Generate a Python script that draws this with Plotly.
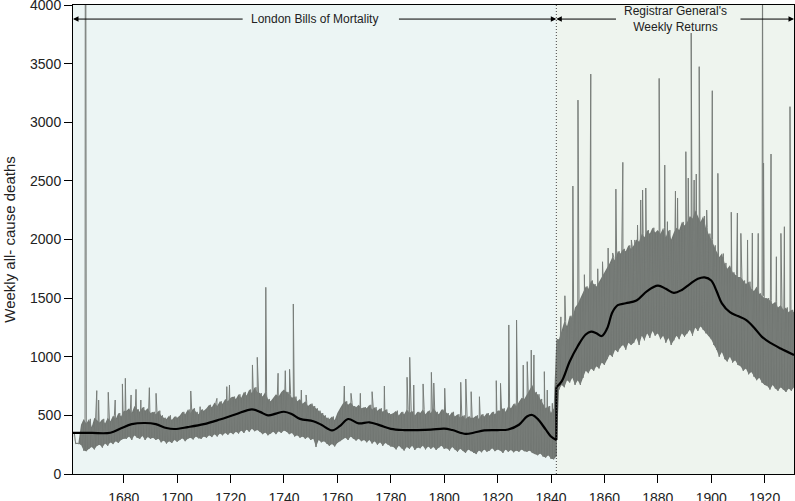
import plotly.graph_objects as go

# yearly lower / upper edge of the weekly-deaths band, 1661..1931
band_low = [
    345, 258, 258, 250, 200, 195, 215, 230, 210, 240,
    250, 225, 260, 240, 270, 255, 280, 265, 290, 300,
    300, 320, 290, 330, 310, 300, 325, 290, 315, 300,
    310, 290, 300, 270, 285, 260, 280, 265, 290, 275,
    290, 305, 280, 300, 310, 295, 320, 305, 300, 320,
    310, 330, 315, 340, 320, 345, 330, 350, 335, 355,
    340, 360, 345, 370, 350, 380, 360, 385, 365, 375,
    360, 340, 355, 330, 345, 360, 340, 365, 350, 370,
    360, 340, 350, 320, 330, 310, 320, 300, 315, 290,
    300, 230, 290, 270, 280, 260, 240, 255, 235, 265,
    280, 300, 310, 290, 320, 300, 285, 300, 280, 290,
    270, 290, 260, 280, 250, 270, 240, 265, 250, 235,
    230, 210, 240, 220, 200, 230, 215, 240, 205, 225,
    220, 240, 210, 235, 215, 230, 205, 225, 240, 215,
    220, 200, 230, 210, 190, 215, 200, 180, 210, 195,
    180, 170, 200, 185, 210, 190, 200, 220, 195, 210,
    200, 180, 210, 190, 205, 185, 200, 190, 210, 195,
    190, 200, 180, 170, 160, 175, 150, 140, 160, 130,
    125, 150,
    720, 760, 740, 800, 780, 820, 760, 800,
    760, 820, 880, 860, 900, 880, 920, 900, 950, 930,
    980, 1020, 1000, 1060, 1040, 1080, 1100, 1060, 1120, 1100,
    1120, 1160, 1100, 1180, 1140, 1200, 1160, 1220, 1180, 1200,
    1150, 1180, 1120, 1160, 1100, 1140, 1180, 1150, 1200, 1170,
    1200, 1230, 1180, 1250, 1220, 1260, 1230, 1200, 1180, 1150,
    1100, 1060, 1000, 1040, 980, 960, 1000, 950, 970, 930,
    920, 880, 900, 850, 870, 830, 800, 820, 780, 760,
    750, 720, 760, 730, 710, 740, 720, 700, 730, 710, 740,
]
band_high = [
    350, 264, 262, 420, 470, 430, 470, 400, 480, 460,
    440, 470, 430, 480, 450, 500, 470, 520, 490, 540,
    540, 560, 520, 580, 550, 530, 570, 540, 560, 520,
    530, 510, 540, 500, 480, 470, 500, 460, 490, 480,
    500, 530, 510, 550, 520, 560, 530, 510, 550, 540,
    560, 590, 570, 610, 580, 620, 600, 640, 620, 650,
    660, 640, 680, 650, 700, 670, 720, 690, 740, 700,
    690, 660, 700, 640, 620, 650, 680, 660, 700, 720,
    700, 680, 650, 660, 620, 640, 600, 620, 580, 600,
    580, 560, 540, 520, 500, 480, 470, 490, 460, 520,
    560, 600, 620, 590, 610, 580, 570, 590, 560, 570,
    560, 590, 550, 570, 540, 560, 530, 550, 520, 510,
    520, 540, 500, 530, 510, 550, 520, 540, 500, 530,
    520, 550, 510, 540, 520, 560, 530, 510, 550, 540,
    520, 500, 530, 490, 510, 480, 500, 470, 490, 480,
    480, 500, 470, 510, 490, 520, 500, 530, 510, 540,
    540, 560, 530, 580, 560, 600, 580, 620, 650, 640,
    680, 720, 760, 700, 680, 640, 600, 560, 580, 520,
    560, 1150,
    1150, 1220, 1300, 1260, 1350, 1330, 1420, 1450,
    1500, 1560, 1600, 1580, 1650, 1620, 1600, 1640, 1680, 1720,
    1750, 1800, 1850, 1820, 1900, 1880, 1920, 1900, 1950, 1920,
    1950, 2000, 1980, 2050, 2020, 2080, 2050, 2100, 2060, 2080,
    2050, 2100, 2020, 2080, 2000, 2060, 2100, 2080, 2150, 2120,
    2150, 2200, 2180, 2250, 2200, 2150, 2200, 2100, 2050, 2000,
    1950, 1900, 1850, 1880, 1800, 1750, 1780, 1720, 1700, 1680,
    1680, 1650, 1620, 1640, 1580, 1560, 1600, 1540, 1520, 1500,
    1500, 1480, 1450, 1470, 1420, 1440, 1400, 1420, 1380, 1400, 1380,
]
first_year = 1661

# single-week peaks standing out of the band
spike_years = [
    1665.6, 1665.8, 1669.9, 1670.6, 1674.2, 1676.8, 1679.5, 1680.6, 1682.75, 1684.6,
    1686.4, 1689.6, 1692.1, 1705.1, 1708.6, 1714.9, 1718.6, 1719.6, 1728.2, 1730.0,
    1733.2, 1737.8, 1740.5, 1742.1, 1743.5, 1746.5, 1748.3, 1762.6, 1765.1, 1768.6,
    1773.0, 1777.6, 1786.1, 1787.1, 1788.6, 1792.1, 1795.2, 1796.1, 1800.2, 1806.2,
    1808.1, 1810.1, 1813.2, 1819.5, 1821.1, 1824.2, 1827.1, 1829.6, 1831.1, 1832.6,
    1833.6, 1837.5, 1838.6, 1840.5,
    1843.7, 1845.2, 1848.2, 1850.1, 1852.5, 1854.9, 1857.5, 1859.3, 1861.4, 1863.1,
    1864.3, 1866.9, 1870.1, 1871.4, 1872.4, 1873.6, 1874.3, 1875.5, 1878.5, 1880.5,
    1882.6, 1883.6, 1886.6, 1887.4, 1890.5, 1891.4, 1892.5, 1893.6, 1894.4, 1895.5,
    1898.3, 1900.4, 1902.5, 1904.6, 1907.5, 1909.8, 1911.1, 1913.6, 1915.4, 1917.6,
    1919.2, 1919.6, 1922.4, 1924.4, 1926.1, 1927.4, 1929.5,
]
spike_values = [
    4400, 4400, 711, 631, 697, 631, 768, 816, 674, 722,
    631, 736, 688, 708, 574, 645, 745, 759, 930, 995,
    1592, 859, 881, 893, 1450, 716, 674, 750, 688, 688,
    702, 750, 825, 995, 759, 768, 867, 776, 731, 782,
    810, 702, 659, 796, 773, 1271, 1313, 929, 958, 1057,
    1015, 873, 716, 603,
    1340, 1520, 2456, 3189, 1700, 3411, 1750, 1810, 1927, 1885,
    2430, 2658, 1996, 1996, 2123, 2337, 2422, 2439, 2054, 3374,
    2635, 2152, 2413, 2354, 2749, 2524, 3761, 2507, 2558, 3474,
    2251, 3269, 2564, 1853, 2233, 2226, 2052, 1996, 2055, 2052,
    4400, 2652, 2729, 1853, 2052, 2109, 3133,
]

# smoothed trend, Bills of Mortality and Registrar General parts
trend_pre_years = [1661, 1668, 1675, 1679, 1683, 1688, 1692, 1696, 1699, 1704,
                   1710, 1716, 1722, 1728, 1731, 1734, 1737, 1740, 1743, 1746,
                   1751, 1754, 1758, 1761, 1764, 1768, 1772, 1776, 1780, 1785,
                   1790, 1795, 1800, 1803, 1808, 1811, 1815, 1820, 1824, 1828,
                   1831, 1833, 1835, 1838, 1840, 1842]
trend_pre_values = [350, 350, 352, 390, 425, 435, 425, 392, 384, 400,
                    425, 465, 510, 552, 530, 500, 515, 531, 510, 470,
                    450, 420, 372, 410, 469, 432, 441, 415, 385, 375,
                    375, 378, 387, 375, 342, 352, 372, 375, 380, 420,
                    490, 503, 470, 380, 320, 290]
trend_post_years = [1842, 1844, 1847, 1850, 1853, 1855, 1857, 1859, 1861, 1863,
                    1865, 1868, 1872, 1876, 1880, 1883, 1886, 1889, 1892, 1895,
                    1897.5, 1900, 1902, 1904, 1907, 1910, 1913, 1916, 1919, 1922,
                    1926, 1931]
trend_post_values = [740, 790, 960, 1090, 1190, 1214, 1200, 1177, 1240, 1380,
                     1440, 1456, 1480, 1560, 1606, 1580, 1545, 1570, 1620, 1665,
                     1677, 1650, 1560, 1456, 1380, 1347, 1315, 1250, 1170, 1120,
                     1070, 1015]

x_start, x_split, x_end = 1661, 1842, 1931
tick_years = [1680, 1700, 1720, 1740, 1760, 1780, 1800, 1820, 1840, 1860, 1880, 1900, 1920]
y_ticks = [0, 500, 1000, 1500, 2000, 2500, 3000, 3500, 4000]

band_years = [first_year + i for i in range(len(band_low))]

# weekly series: lower and upper readings alternate within each year, peaks slotted in
pts = []
for yr, lo, hi in zip(band_years, band_low, band_high):
    pts.append((yr, lo))
    pts.append((yr + 0.5, hi))
pts += list(zip(spike_years, spike_values))
pts.sort(key=lambda p: p[0])
wx = [p[0] for p in pts]
wy = [p[1] for p in pts]

FONT = "Liberation Sans, Arial, sans-serif"
GREY = "#787d79"
fig = go.Figure()

# dense core of the weekly band
fig.add_trace(go.Scatter(x=band_years, y=band_low, mode="lines",
                         line=dict(width=0, color=GREY), hoverinfo="skip"))
fig.add_trace(go.Scatter(x=band_years, y=band_high, mode="lines", fill="tonexty",
                         fillcolor="#717672", line=dict(width=0, color=GREY), hoverinfo="skip"))
fig.add_trace(go.Scatter(x=wx, y=wy, mode="lines",
                         line=dict(color=GREY, width=1), hoverinfo="skip"))

fig.add_trace(go.Scatter(x=trend_pre_years, y=trend_pre_values, mode="lines",
                         line=dict(color="black", width=2.2, shape="spline", smoothing=1)))
fig.add_trace(go.Scatter(x=[trend_pre_years[-1], trend_post_years[0]],
                         y=[trend_pre_values[-1], trend_post_values[0]], mode="lines",
                         line=dict(color="black", width=2.2)))
fig.add_trace(go.Scatter(x=trend_post_years, y=trend_post_values, mode="lines",
                         line=dict(color="black", width=2.2, shape="spline", smoothing=1)))

# shaded source periods and divider
fig.add_shape(type="rect", xref="x", yref="paper", x0=x_start, x1=x_split, y0=0, y1=1,
              fillcolor="#ECF5F4", line_width=0, layer="below")
fig.add_shape(type="rect", xref="x", yref="paper", x0=x_split, x1=x_end, y0=0, y1=1,
              fillcolor="#EEF4EE", line_width=0, layer="below")
fig.add_shape(type="line", xref="x", yref="paper", x0=x_split, x1=x_split, y0=0, y1=1,
              line=dict(color="#444444", width=1, dash="1px,2px"))

# period labels with arrows
lab_y = 3880
arrows = [(x_start, 1725.1), (x_split, 1782.5), (x_split, 1864.9), (x_end, 1910.4)]
for head, tail in arrows:
    fig.add_annotation(x=head, y=lab_y, ax=tail, ay=lab_y, xref="x", yref="y",
                       axref="x", ayref="y", text="", showarrow=True,
                       arrowhead=2, arrowsize=1.1, arrowwidth=1, arrowcolor="black")
fig.add_annotation(x=(x_start + x_split) / 2, y=lab_y, text="London Bills of Mortality",
                   showarrow=False, font=dict(family=FONT, size=12, color="#222"))
fig.add_annotation(x=(x_split + x_end) / 2, y=lab_y,
                   text="Registrar General's<br>Weekly Returns",
                   showarrow=False, font=dict(family=FONT, size=12, color="#222"))

fig.update_xaxes(range=[x_start, x_end], tickvals=tick_years, ticks="outside", ticklen=8,
                 tickcolor="black", showline=True, linecolor="black", linewidth=1,
                 mirror=True, showgrid=False, zeroline=False, automargin=False,
                 ticklabelstandoff=3, ticklabeloverflow="allow",
                 tickfont=dict(family=FONT, size=14, color="#222"))
fig.update_yaxes(range=[0, 4000], tickvals=y_ticks, ticks="outside", ticklen=8,
                 tickcolor="black", showline=True, linecolor="black", linewidth=1,
                 mirror=True, showgrid=False, zeroline=False, automargin=False,
                 ticklabeloverflow="allow",
                 tickfont=dict(family=FONT, size=14, color="#222"),
                 title=dict(text="Weekly all- cause deaths", standoff=10,
                            font=dict(family=FONT, size=15, color="#222")))
fig.update_layout(width=795, height=501, margin=dict(l=73, r=1, t=5, b=27),
                  plot_bgcolor="white", paper_bgcolor="white", showlegend=False)

# the page body carries a default margin; drop it so the figure sits at the window origin
fig.write_html("out.html", config={"displayModeBar": False},
               post_script="document.body.style.margin='0';")
